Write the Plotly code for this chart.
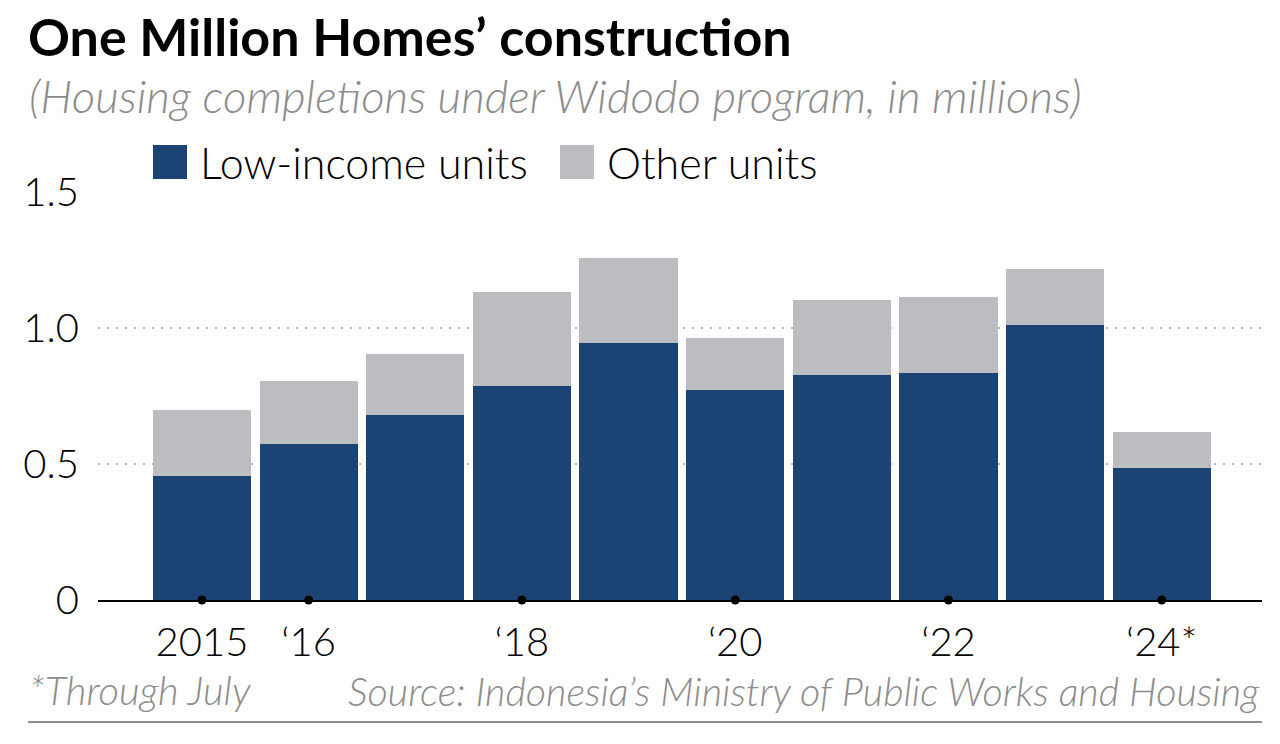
import plotly.graph_objects as go

# ---- data ----
years = [2015, 2016, 2017, 2018, 2019, 2020, 2021, 2022, 2023, 2024]
low_income = [0.456, 0.574, 0.680, 0.787, 0.945, 0.772, 0.827, 0.835, 1.011, 0.485]
total = [0.698, 0.805, 0.904, 1.132, 1.257, 0.963, 1.103, 1.114, 1.217, 0.618]
other = [round(t - l, 3) for t, l in zip(total, low_income)]
tick_years = [2015, 2016, 2018, 2020, 2022, 2024]
tick_labels = ["2015", "\u201816", "\u201818", "\u201820", "\u201822", "\u201824*"]
y_ticks = [0, 0.5, 1.0, 1.5]
y_tick_labels = ["0", "0.5", "1.0", "1.5"]

BLUE = "#1b4373"
GRAY = "#bcbdc0"
FONT = "Lato"

W, H = 1280, 744
L, R, T, B = 98, 1262, 192, 600  # plot area in pixels


def px(x):
    return (x - L) / (R - L)


def py(y):
    return (B - y) / (B - T)


fig = go.Figure()
fig.add_trace(go.Bar(x=years, y=low_income, name="Low-income units",
                     marker=dict(color=BLUE, line=dict(width=0)), showlegend=False))
fig.add_trace(go.Bar(x=years, y=other, name="Other units",
                     marker=dict(color=GRAY, line=dict(width=0)), showlegend=False))
fig.add_trace(go.Scatter(x=tick_years, y=[0] * len(tick_years), mode="markers",
                         marker=dict(color="black", size=9), cliponaxis=False,
                         showlegend=False, hoverinfo="skip"))

fig.update_layout(
    width=W, height=H,
    barmode="stack", bargap=0.08,
    plot_bgcolor="white", paper_bgcolor="white",
    margin=dict(l=L, r=W - R, t=T, b=H - B, pad=0),
    font=dict(family=FONT, color="black"),
    xaxis=dict(range=[2014.025, 2024.94], tickvals=tick_years, ticktext=tick_labels,
               showgrid=False, zeroline=False, showline=True, linecolor="black",
               linewidth=2, ticks="", ticklabelstandoff=6,
               tickfont=dict(size=40, family=FONT, weight=300, color="black")),
    yaxis=dict(range=[0, 1.5], tickvals=y_ticks, ticktext=y_tick_labels,
               showgrid=True, gridcolor="#b5b5b5", gridwidth=2, griddash="2px,7px",
               zeroline=False, showline=False, ticks="", ticklabelstandoff=18,
               tickfont=dict(size=40, family=FONT, weight=300, color="black")),
)


def note(text, x, y, xanchor, size, color, weight=300):
    return dict(text=text, x=px(x), y=py(y), xref="paper", yref="paper",
                xanchor=xanchor, yanchor="middle", showarrow=False,
                font=dict(size=size, family=FONT, weight=weight, color=color))


ann = [
    note("<b>One Million Homes\u2019 construction</b>", 26, 36, "left", 52, "black", 700),
    note("<i>(Housing completions under Widodo program, in millions)</i>", 27, 96,
         "left", 45.7, "#8c8c8c"),
    note("Low-income units", 198, 162, "left", 43, "black"),
    note("Other units", 605, 162, "left", 43, "black"),
    note("<i>*Through July</i>", 27, 690, "left", 40, "#8c8c8c"),
    note("<i>Source: Indonesia\u2019s Ministry of Public Works and Housing</i>", 1262, 690,
         "right", 39.5, "#8c8c8c"),
]
fig.update_layout(annotations=ann)

shapes = [
    dict(type="rect", xref="paper", yref="paper", x0=px(153), x1=px(187),
         y0=py(179), y1=py(145), fillcolor=BLUE, line=dict(width=0)),
    dict(type="rect", xref="paper", yref="paper", x0=px(560), x1=px(594),
         y0=py(179), y1=py(145), fillcolor=GRAY, line=dict(width=0)),
    dict(type="line", xref="paper", yref="paper", x0=px(28), x1=px(1262),
         y0=py(722), y1=py(722), line=dict(color="#8c8c8c", width=2)),
]
fig.update_layout(shapes=shapes)

fig.write_html("out.html", config={"displayModeBar": False},
               post_script="document.body.style.margin='0';")
